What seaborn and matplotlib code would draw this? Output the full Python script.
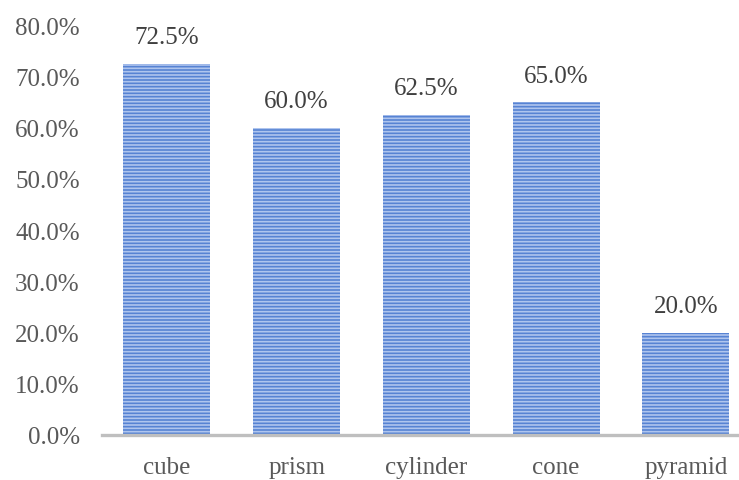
import matplotlib
matplotlib.use("Agg")
import matplotlib.pyplot as plt
import seaborn as sns
import pandas as pd

shapes = ["cube", "prism", "cylinder", "cone", "pyramid"]
shares = [72.5, 60.0, 62.5, 65.0, 20.0]
y_ticks = [0, 10, 20, 30, 40, 50, 60, 70, 80]

sns.set_theme(style="white")
plt.rcParams["font.family"] = ["Liberation Serif", "DejaVu Serif"]
plt.rcParams["hatch.linewidth"] = 1.2

df = pd.DataFrame({"shape": shapes, "share": shares})

fig = plt.figure(figsize=(7.39, 4.81), dpi=100)
ax = fig.add_axes([0.138, 0.0936, 0.862, 0.852])

sns.barplot(data=df, x="shape", y="share", ax=ax, color="#4472C4",
            width=0.67, saturation=1)

for p in ax.patches:
    p.set_facecolor("#5783D3")
    p.set_edgecolor("#AFC5EE")
    p.set_linewidth(0)
    p.set_hatch("-----")

for i, v in enumerate(shares):
    ax.text(i, v + 3.0, f"{v:.1f}%", ha="center", va="bottom",
            fontsize=18, color="#404040")

ax.set_ylim(0, 80)
ax.set_xlim(-0.5, 4.41)
ax.set_yticks(y_ticks)
ax.set_yticklabels([f"{t:.1f}%" for t in y_ticks])
ax.set_xlabel("")
ax.set_ylabel("")
ax.tick_params(axis="both", length=0, labelsize=18, labelcolor="#595959")
ax.tick_params(axis="y", pad=16)
ax.tick_params(axis="x", pad=15)

for s in ["top", "right", "left"]:
    ax.spines[s].set_visible(False)
ax.spines["bottom"].set_color("#BFBFBF")
ax.spines["bottom"].set_linewidth(2.4)
ax.grid(False)

fig.savefig("out.png", dpi=100)
